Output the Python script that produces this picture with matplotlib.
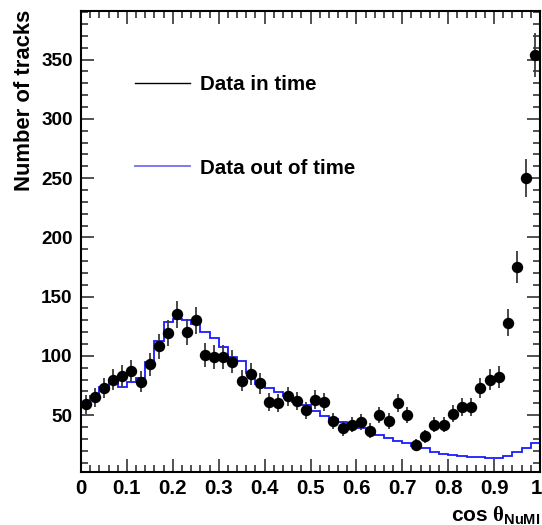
import numpy as np
import matplotlib
matplotlib.use("Agg")
import matplotlib.pyplot as plt
from matplotlib.lines import Line2D
from matplotlib.ticker import MultipleLocator, FuncFormatter
from matplotlib.transforms import ScaledTranslation

plt.rcParams['font.family'] = ['Liberation Sans', 'DejaVu Sans']
plt.rcParams['font.weight'] = 'bold'
plt.rcParams['mathtext.fontset'] = 'custom'
plt.rcParams['mathtext.bf'] = 'Liberation Sans:bold'
plt.rcParams['mathtext.rm'] = 'Liberation Serif'
plt.rcParams['mathtext.it'] = 'Liberation Serif:italic'

# ---- data ----
bin_edges = np.linspace(0.0, 1.0, 51)
data_in_time = [59, 65, 73, 80, 83, 87, 78, 93, 108, 119,
                135, 120, 130, 101, 99, 99, 95, 79, 85, 77,
                61, 60, 66, 62, 54, 63, 61, 45, 39, 42,
                44, 37, 50, 45, 60, 50, 25, 32, 42, 42,
                51, 57, 57, 73, 80, 82, 128, 175, 250, 354]
data_out_of_time = [59.1, 66.1, 74.0, 77.6, 73.4, 78.2, 81.6, 95.1, 112.8, 128.4,
                    131.4, 130.3, 127.2, 120.2, 115.4, 107.2, 99.3, 95.5, 85.3, 76.0,
                    72.5, 69.2, 66.3, 61.0, 58.5, 53.7, 49.2, 46.8, 44.4, 42.2,
                    38.8, 34.5, 33.1, 30.3, 28.3, 26.1, 23.8, 21.9, 19.0, 17.6,
                    16.2, 15.4, 14.5, 14.3, 14.0, 14.0, 15.7, 19.0, 21.9, 26.1]
legend_labels = ["Data in time", "Data out of time"]
x_ticks = [0, 0.1, 0.2, 0.3, 0.4, 0.5, 0.6, 0.7, 0.8, 0.9, 1.0]
y_ticks = [50, 100, 150, 200, 250, 300, 350]

centers = 0.5 * (bin_edges[:-1] + bin_edges[1:])
vals = np.array(data_in_time, dtype=float)
errs = np.sqrt(vals)

fig = plt.figure(figsize=(5.42, 5.25), dpi=100)
ax = fig.add_axes([81/542, 1 - 472/525, (540 - 81)/542, (472 - 11)/525])

ax.stairs(data_out_of_time, bin_edges, color='#1a1aff', lw=1.3, baseline=None, zorder=2)
ax.errorbar(centers, vals, yerr=errs, fmt='o', color='black', ms=7.2,
            ecolor='#3a3a3a', elinewidth=1.3, capsize=0, zorder=3)

ax.set_xlim(0, 1)
ax.set_ylim(2, 391)

ax.set_xticks(x_ticks)
ax.xaxis.set_minor_locator(MultipleLocator(0.02))
ax.set_yticks(y_ticks)
ax.yaxis.set_minor_locator(MultipleLocator(10))
ax.xaxis.set_major_formatter(FuncFormatter(lambda v, p: ('%g' % round(v, 2))))

ax.tick_params(which='both', direction='in', top=True, right=True, width=1.1, color='#222222')
ax.tick_params(which='major', length=9.5)
ax.tick_params(which='minor', length=4.8)
ax.tick_params(axis='x', which='major', labelsize=14.8, pad=5)
ax.tick_params(axis='y', which='major', labelsize=13.6, pad=6)
for lab in ax.get_xticklabels() + ax.get_yticklabels():
    lab.set_fontweight('bold')
last = ax.xaxis.get_major_ticks()[-1].label1
last.set_transform(last.get_transform() + ScaledTranslation(-4/100, 0, fig.dpi_scale_trans))

for s in ax.spines.values():
    s.set_linewidth(1.5)

ax.text(-0.124, 1.002, 'Number of tracks', rotation=90, ha='center', va='top',
        transform=ax.transAxes, fontsize=15.8, fontweight='bold')
fig.text(540/542, 1 - 521/525, r'$\mathbf{cos}\ \mathrm{\theta}_{\mathbf{NuMI}}$',
         ha='right', va='baseline', fontsize=15)

handles = [Line2D([], [], color='black', lw=1.0),
           Line2D([], [], color='#6f6ff0', lw=1.3)]
ax.legend(handles, legend_labels, loc='upper left', bbox_to_anchor=((135 - 81)/459, 1 - (75 - 11)/461),
          frameon=False, handlelength=2.67, handletextpad=0.49,
          labelspacing=3.14, borderpad=0, borderaxespad=0,
          prop={'weight': 'bold', 'size': 14.8})

fig.savefig('out.png', dpi=100)
